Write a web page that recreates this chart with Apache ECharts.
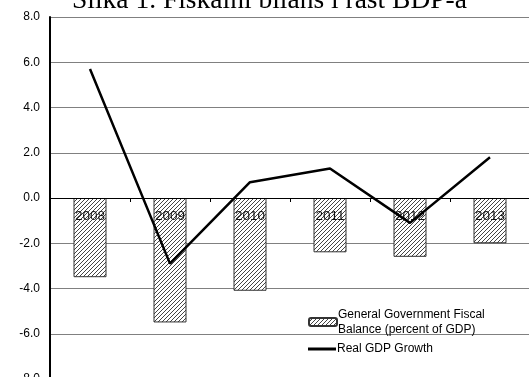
<!DOCTYPE html>
<html><head><meta charset="utf-8">
<script src="https://cdn.jsdelivr.net/npm/echarts@6/dist/echarts.min.js"></script>
<style>html,body{margin:0;padding:0;background:#fff}#c{width:529px;height:377px}</style>
</head><body><div id="c"></div>
<script>
const categories = ['2008','2009','2010','2011','2012','2013'];
const fiscalBalance = [-3.5, -5.5, -4.1, -2.4, -2.6, -2.0];
const gdpGrowth = [5.7, -2.9, 0.7, 1.3, -1.1, 1.8];
const yTicks = [-8, -6, -4, -2, 0, 2, 4, 6, 8];
const titleText = 'Slika 1. Fiskalni bilans i rast BDP-a';
const barName = 'General Government Fiscal\nBalance (percent of GDP)';
const lineName = 'Real GDP Growth';

function hatch() {
  const c = document.createElement('canvas');
  c.width = 4; c.height = 4;
  const g = c.getContext('2d');
  g.fillStyle = '#fff'; g.fillRect(0,0,4,4);
  g.strokeStyle = '#444'; g.lineWidth = 1;
  g.beginPath();
  g.moveTo(0,4); g.lineTo(4,0);
  g.moveTo(-1,1); g.lineTo(1,-1);
  g.moveTo(3,5); g.lineTo(5,3);
  g.stroke();
  return c;
}
const pattern = {image: hatch(), repeat: 'repeat'};

const chart = echarts.init(document.getElementById('c'));
chart.setOption({
  animation: false,
  title: {text: titleText, left: 72, top: -13, padding: 0,
    textStyle: {fontFamily: 'Liberation Serif', fontSize: 27.5, fontWeight: 'normal', color: '#000'}},
  grid: {left: 50, top: 17, width: 480, height: 362, containLabel: false, outerBoundsMode: 'none'},
  legend: [{
    data: [{name: barName}], orient: 'vertical', left: 308, top: 307, padding: 0,
    itemWidth: 28, itemHeight: 8, itemGap: 4,
    textStyle: {fontFamily: 'Liberation Sans', fontSize: 12, color: '#000', lineHeight: 15, padding: [0,0,0,-4]}
  },{
    data: [{name: lineName, icon: 'rect'}], orient: 'vertical', left: 308, top: 343, padding: 0,
    itemWidth: 28, itemHeight: 3,
    textStyle: {fontFamily: 'Liberation Sans', fontSize: 12, color: '#000', padding: [0,0,0,-4]}
  }],
  xAxis: {type: 'category', data: categories, z: 3,
    axisLine: {onZero: true, lineStyle: {color: '#000', width: 1}},
    axisTick: {show: true, length: 4, lineStyle: {color: '#000'}},
    axisLabel: {margin: -170, fontFamily: 'Liberation Sans', fontSize: 13.5, color: '#111'},
    splitLine: {show: false}},
  yAxis: {type: 'value', min: -8, max: 8, interval: 2,
    axisLine: {show: true, lineStyle: {color: '#000', width: 2}},
    axisTick: {show: false},
    axisLabel: {margin: 10, fontFamily: 'Liberation Sans', fontSize: 12, color: '#000',
      formatter: v => v.toFixed(1)},
    splitLine: {lineStyle: {color: '#808080', width: 1}}},
  series: [{
    name: barName, type: 'bar', data: fiscalBalance, barWidth: 33, z: 2,
    itemStyle: {color: pattern, borderColor: '#333', borderWidth: 1}
  },{
    name: lineName, type: 'line', data: gdpGrowth, symbol: 'none',
    lineStyle: {color: '#000', width: 2.5}, itemStyle: {color: '#000'}, z: 5
  }]
});
</script></body></html>
